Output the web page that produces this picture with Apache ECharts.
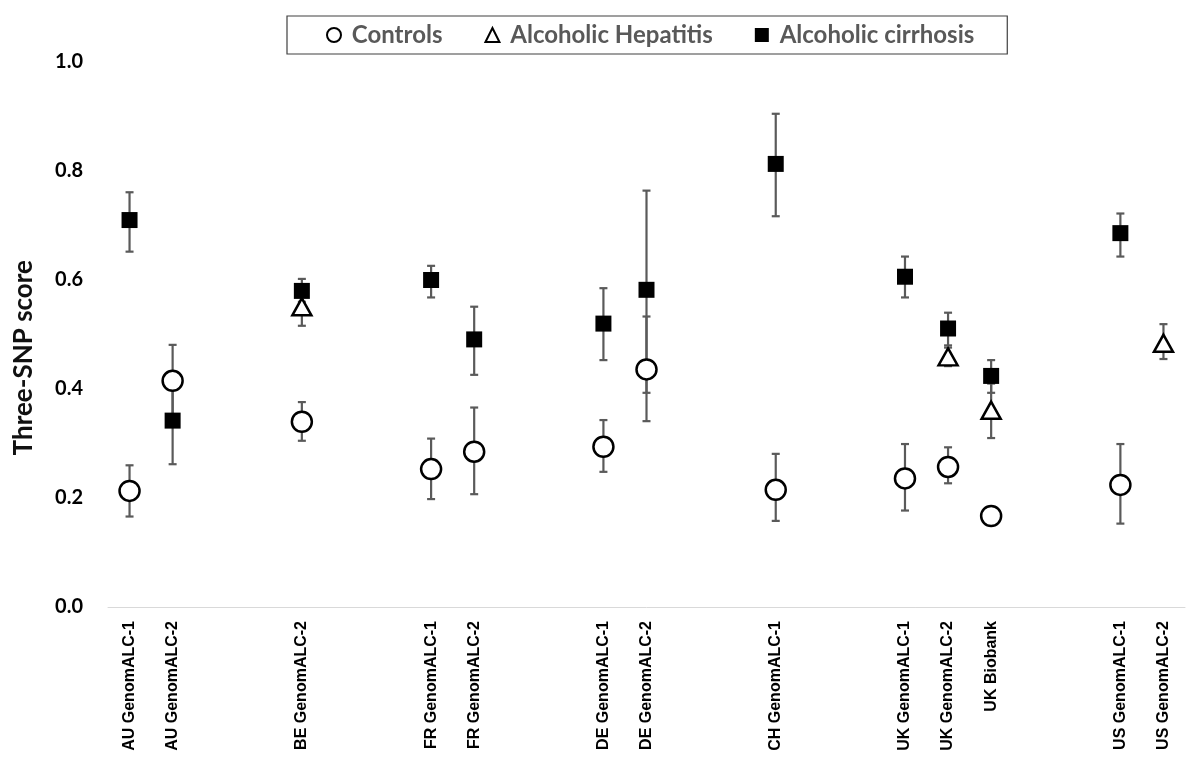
<!DOCTYPE html>
<html>
<head>
<meta charset="utf-8">
<script src="https://cdn.jsdelivr.net/npm/echarts@6/dist/echarts.min.js"></script>
<style>
  html, body { margin: 0; padding: 0; background: #fff; }
  #chart { width: 1195px; height: 771px; }
</style>
</head>
<body>
<div id="chart"></div>
<script>
// categories, blanks are the gaps between countries
var cohorts = ['AU GenomALC-1', 'AU GenomALC-2', '', '', 'BE GenomALC-2', '', '', 'FR GenomALC-1', 'FR GenomALC-2', '', '',
  'DE GenomALC-1', 'DE GenomALC-2', '', '', 'CH GenomALC-1', '', '', 'UK GenomALC-1', 'UK GenomALC-2', 'UK Biobank', '', '',
  'US GenomALC-1', 'US GenomALC-2'];

// mean score per cohort (null = not shown)
var controls = [0.213, 0.415, null, null, 0.340, null, null, 0.253, 0.285, null, null,
  0.294, 0.436, null, null, 0.215, null, null, 0.236, 0.257, 0.167, null, null, 0.224, null];
var hepatitis = [null, null, null, null, 0.551, null, null, null, null, null, null,
  null, null, null, null, null, null, null, null, 0.459, 0.361, null, null, null, 0.484];
var cirrhosis = [0.710, 0.342, null, null, 0.580, null, null, 0.600, 0.491, null, null,
  0.520, 0.582, null, null, 0.813, null, null, 0.606, 0.511, 0.424, null, null, 0.686, null];

// error bar low / high
var controlsLow = [0.166, 0.350, null, null, 0.305, null, null, 0.198, 0.207, null, null,
  0.248, 0.341, null, null, 0.158, null, null, 0.177, 0.227, null, null, null, 0.153, null];
var controlsHigh = [0.260, 0.481, null, null, 0.376, null, null, 0.309, 0.366, null, null,
  0.343, 0.533, null, null, 0.281, null, null, 0.299, 0.293, null, null, null, 0.299, null];
var hepatitisLow = [null, null, null, null, 0.516, null, null, null, null, null, null,
  null, null, null, null, null, null, null, null, 0.442, 0.310, null, null, null, 0.455];
var hepatitisHigh = [null, null, null, null, 0.586, null, null, null, null, null, null,
  null, null, null, null, null, null, null, null, 0.476, 0.410, null, null, null, 0.519];
var cirrhosisLow = [0.652, 0.262, null, null, 0.560, null, null, 0.568, 0.426, null, null,
  0.453, 0.393, null, null, 0.717, null, null, 0.568, 0.480, 0.393, null, null, 0.643, null];
var cirrhosisHigh = [0.761, 0.420, null, null, 0.602, null, null, 0.626, 0.551, null, null,
  0.585, 0.764, null, null, 0.905, null, null, 0.643, 0.540, 0.453, null, null, 0.722, null];

function errData(lo, hi) {
  var out = [];
  for (var i = 0; i < lo.length; i++) {
    if (lo[i] != null && hi[i] != null) out.push([i, lo[i], hi[i]]);
  }
  return out;
}

function renderErr(params, api) {
  var x = api.value(0);
  var top = api.coord([x, api.value(2)]);
  var bot = api.coord([x, api.value(1)]);
  var cap = 4;
  var style = { stroke: '#5a5a5a', lineWidth: 2.2 };
  return {
    type: 'group',
    children: [
      { type: 'line', shape: { x1: top[0], y1: top[1], x2: bot[0], y2: bot[1] }, style: style },
      { type: 'line', shape: { x1: top[0] - cap, y1: top[1], x2: top[0] + cap, y2: top[1] }, style: style },
      { type: 'line', shape: { x1: bot[0] - cap, y1: bot[1], x2: bot[0] + cap, y2: bot[1] }, style: style }
    ]
  };
}

var myChart = echarts.init(document.getElementById('chart'));
var option = {
  animation: false,
  backgroundColor: '#fff',
  legend: {
    left: 287,
    top: 16,
    padding: [7, 33, 7, 39],
    borderColor: '#404040',
    borderWidth: 1.2,
    borderRadius: 0,
    itemGap: 42,
    itemWidth: 14,
    itemHeight: 14,
    itemStyle: { borderWidth: 2 },
    data: ['Controls', 'Alcoholic Hepatitis', 'Alcoholic cirrhosis'],
    formatter: function (name) { return ' ' + name; },
    textStyle: {
      fontFamily: 'Lato',
      fontWeight: 'bold',
      fontSize: 24,
      color: '#595959'
    }
  },
  grid: {
    left: 108,
    right: 10,
    top: 62,
    bottom: 164
  },
  xAxis: {
    type: 'category',
    data: cohorts,
    boundaryGap: true,
    axisLine: { lineStyle: { color: '#d9d9d9', width: 1 } },
    axisTick: { show: false },
    axisLabel: {
      interval: 0,
      rotate: 90,
      margin: 14,
      fontFamily: 'Liberation Sans',
      fontWeight: 'bold',
      fontSize: 16,
      color: '#000'
    }
  },
  yAxis: {
    type: 'value',
    min: 0,
    max: 1,
    interval: 0.2,
    splitLine: { show: false },
    axisLine: { show: false },
    axisTick: { show: false },
    axisLabel: {
      margin: 25,
      formatter: function (v) { return v.toFixed(1); },
      fontFamily: 'Lato',
      fontWeight: 'bold',
      fontSize: 20,
      color: '#000'
    }
  },
  graphic: [
    {
      type: 'text',
      left: 11,
      top: 260,
      rotation: Math.PI / 2,
      style: {
        text: 'Three-SNP score',
        fontFamily: 'Lato',
        fontWeight: 'bold',
        fontSize: 26,
        fill: '#111'
      }
    }
  ],
  series: [
    { type: 'custom', name: 'errControls', renderItem: renderErr, data: errData(controlsLow, controlsHigh), encode: { x: 0, y: [1, 2] }, z: 1 },
    { type: 'custom', name: 'errHepatitis', renderItem: renderErr, data: errData(hepatitisLow, hepatitisHigh), encode: { x: 0, y: [1, 2] }, z: 1 },
    { type: 'custom', name: 'errCirrhosis', renderItem: renderErr, data: errData(cirrhosisLow, cirrhosisHigh), encode: { x: 0, y: [1, 2] }, z: 1 },
    {
      type: 'scatter',
      name: 'Controls',
      data: controls,
      symbol: 'circle',
      symbolSize: 20,
      itemStyle: { color: '#fff', borderColor: '#000', borderWidth: 2.5, opacity: 1 },
      z: 3
    },
    {
      type: 'scatter',
      name: 'Alcoholic Hepatitis',
      data: hepatitis,
      symbol: 'triangle',
      symbolSize: [19, 17],
      itemStyle: { color: '#fff', borderColor: '#000', borderWidth: 2.5, opacity: 1 },
      z: 4
    },
    {
      type: 'scatter',
      name: 'Alcoholic cirrhosis',
      data: cirrhosis,
      symbol: 'rect',
      symbolSize: 16,
      itemStyle: { color: '#000', opacity: 1 },
      z: 5
    }
  ]
};
myChart.setOption(option);
</script>
</body>
</html>
